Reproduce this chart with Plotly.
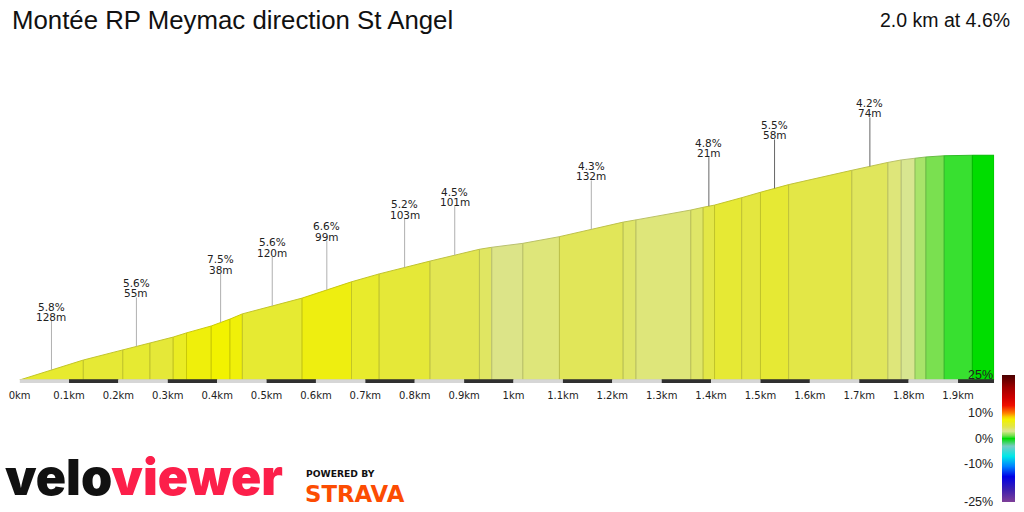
import numpy as np
import plotly.graph_objects as go

W, H = 1024, 512

# ---------------- data ----------------
title_text = "Montée RP Meymac direction St Angel"
summary_text = "2.0 km at 4.6%"

dist_km = [0, 0.129, 0.209, 0.264, 0.311, 0.338, 0.388, 0.426, 0.451, 0.572,
           0.672, 0.728, 0.831, 0.931, 0.956, 1.019, 1.093, 1.222, 1.248, 1.359,
           1.384, 1.407, 1.462, 1.500, 1.557, 1.685, 1.758, 1.785, 1.813, 1.835,
           1.872, 1.929, 1.973]
elevation_m = [700.0, 708.1, 712.2, 715.0, 717.4, 719.1, 721.9, 724.7, 726.8, 733.2,
               739.8, 743.0, 748.2, 753.0, 753.8, 755.4, 758.1, 764.0, 764.9, 768.9,
               770.0, 770.9, 773.9, 776.1, 779.2, 785.0, 788.2, 789.2, 789.9, 790.4,
               790.9, 791.1, 791.1]
segment_grade = [5.8, 5.4, 5.6, 5.2, 6.2, 6.9, 7.5, 7.0, 5.6, 6.6,
                 6.0, 5.2, 4.5, 4.1, 3.2, 3.7, 4.3, 4.0, 3.7, 4.0,
                 4.8, 5.5, 5.0, 5.5, 4.8, 4.2, 3.7, 2.8, 2.0, 1.2,
                 0.5, 0.0]

ann_segment = [0, 2, 6, 8, 9, 11, 12, 16, 20, 23, 25]
ann_grade = ["5.8%", "5.6%", "7.5%", "5.6%", "6.6%", "5.2%", "4.5%", "4.3%", "4.8%", "5.5%", "4.2%"]
ann_length = ["128m", "55m", "38m", "120m", "99m", "103m", "101m", "132m", "21m", "58m", "74m"]

tick_km = [0, 0.1, 0.2, 0.3, 0.4, 0.5, 0.6, 0.7, 0.8, 0.9, 1.0,
           1.1, 1.2, 1.3, 1.4, 1.5, 1.6, 1.7, 1.8, 1.9]
tick_text = ["0km", "0.1km", "0.2km", "0.3km", "0.4km", "0.5km", "0.6km", "0.7km", "0.8km",
             "0.9km", "1km", "1.1km", "1.2km", "1.3km", "1.4km", "1.5km", "1.6km", "1.7km",
             "1.8km", "1.9km"]

cbar_values = [25, 10, 0, -10, -25]
cbar_text = ["25%", "10%", "0%", "-10%", "-25%"]

grade_stops = [-25, -20, -15, -11, -7, -3, 0, 0.5, 1.2, 2.0, 2.8, 3.2, 3.7, 4.2, 4.5,
               5.2, 6.0, 6.6, 7.5, 8.5, 10, 13, 16, 20, 25]
grade_colors = ["#7f3f98", "#3a1fb0", "#0000e6", "#0080ff", "#00e8e8", "#78ccc4", "#00dd00",
                "#38e030", "#7ae050", "#a8e46a", "#d8e690", "#dce488", "#dee67a", "#e0e65c",
                "#e2e652", "#e5e838", "#e8eb2c", "#eeee10", "#f2f200", "#f8d000", "#ff8000",
                "#f01000", "#d00000", "#a00000", "#4a0000"]

# ---------------- helpers ----------------
def hex_rgb(h):
    h = h.lstrip("#")
    return [int(h[i:i + 2], 16) for i in (0, 2, 4)]

stop_rgb = np.array([hex_rgb(c) for c in grade_colors], dtype=float)

def grade_rgb(g):
    return [float(np.interp(g, grade_stops, stop_rgb[:, k])) for k in range(3)]

def rgb_str(c, f=1.0):
    return "rgb(%d,%d,%d)" % tuple(int(round(v * f)) for v in c)

def fx(px):
    return px / W

def fy(py):
    return 1 - py / H

X0_PX, X1_PX = 19.6, 994.1
BASE_PX, TOP_PX = 380.0, 60.0
PX_PER_M = 2.467
base_elev = elevation_m[0]
total_km = dist_km[-1]

fig = go.Figure()

# profile segments
for i, g in enumerate(segment_grade):
    d0, d1 = dist_km[i], dist_km[i + 1]
    e0, e1 = elevation_m[i], elevation_m[i + 1]
    c = grade_rgb(g)
    fig.add_trace(go.Scatter(
        x=[d0, d0, d1, d1, d0], y=[base_elev, e0, e1, base_elev, base_elev],
        mode="lines", fill="toself", fillcolor=rgb_str(c),
        line=dict(color=rgb_str(c, 0.84), width=1),
        hoverinfo="skip", showlegend=False))

# colour bar (legend of gradients)
cs = [[(s + 25) / 50.0, rgb_str(hex_rgb(c))] for s, c in zip(grade_stops, grade_colors)]
CB_TOP, CB_BOT = 375.0, 502.0
fig.add_trace(go.Scatter(
    x=[None], y=[None], mode="markers", hoverinfo="skip", showlegend=False,
    marker=dict(color=[0], cmin=-25, cmax=25, colorscale=cs, showscale=True,
                colorbar=dict(xref="container", yref="container",
                              x=fx(1002), xanchor="left", y=fy((CB_TOP + CB_BOT) / 2),
                              yanchor="middle", len=CB_BOT - CB_TOP, lenmode="pixels",
                              thickness=13, thicknessmode="pixels", outlinewidth=0,
                              xpad=0, ypad=0, showticklabels=False, ticks=""))))

shapes = []
# distance strip
for i, t in enumerate(tick_km):
    x1 = min(t + 0.1, total_km)
    shapes.append(dict(type="rect", xref="x", yref="paper", x0=t, x1=x1,
                       y0=fy(383), y1=fy(379.3), line=dict(width=0),
                       fillcolor="#d6d6d6" if i % 2 == 0 else "#303030", layer="above"))

annotations = []
for k, si in enumerate(ann_segment):
    xm = (dist_km[si] + dist_km[si + 1]) / 2
    ym = float(np.interp(xm, dist_km, elevation_m))
    lc = "#b0b0b0" if k < 8 else "#666666"
    shapes.append(dict(type="line", xref="x", yref="y", x0=xm, x1=xm,
                       ysizemode="pixel", yanchor=ym, y0=0, y1=49,
                       line=dict(color=lc, width=1)))
    annotations.append(dict(x=xm, y=ym, xref="x", yref="y", text=ann_length[k],
                            showarrow=False, yshift=53, font=dict(family="DejaVu Sans", size=10.5, color="#222")))
    annotations.append(dict(x=xm, y=ym, xref="x", yref="y", text=ann_grade[k],
                            showarrow=False, yshift=63.5, font=dict(family="DejaVu Sans", size=10.5, color="#222")))

# colour bar labels
for v, t in zip(cbar_values, cbar_text):
    yp = CB_TOP + (25 - v) / 50.0 * (CB_BOT - CB_TOP)
    annotations.append(dict(x=fx(995), y=fy(yp), xref="paper", yref="paper", xanchor="right",
                            yanchor="middle", text=t, showarrow=False,
                            font=dict(family="Liberation Sans", size=12.5, color="#222")))

# titles
annotations.append(dict(x=fx(10), y=fy(20), xref="paper", yref="paper", xanchor="left",
                        yanchor="middle", text=title_text, showarrow=False,
                        font=dict(family="Liberation Sans", size=25.8, color="#111")))
annotations.append(dict(x=fx(1012), y=fy(20), xref="paper", yref="paper", xanchor="right",
                        yanchor="middle", text=summary_text, showarrow=False,
                        font=dict(family="Liberation Sans", size=19.5, color="#111")))

# logos
annotations.append(dict(x=fx(3), y=fy(477), xref="paper", yref="paper", xanchor="left",
                        yanchor="middle", showarrow=False,
                        text='<span style="color:#111111">velo</span><span style="color:#fc1f4a">viewer</span>',
                        font=dict(family="Inter", size=50, weight=900)))
annotations.append(dict(x=fx(304), y=fy(473), xref="paper", yref="paper", xanchor="left",
                        yanchor="middle", showarrow=False, text="POWERED BY",
                        font=dict(family="DejaVu Sans", size=9.2, weight=700, color="#111")))
annotations.append(dict(x=fx(303), y=fy(494), xref="paper", yref="paper", xanchor="left",
                        yanchor="middle", showarrow=False, text="STRAVA",
                        font=dict(family="DejaVu Sans", size=22.8, weight=700, color="#fc4c02")))

fig.update_layout(
    width=W, height=H, margin=dict(l=0, r=0, t=0, b=0, autoexpand=False),
    paper_bgcolor="white", plot_bgcolor="white", showlegend=False,
    shapes=shapes, annotations=annotations,
    xaxis=dict(range=[0, total_km], domain=[fx(X0_PX), fx(X1_PX)], tickvals=tick_km,
               ticktext=tick_text, showgrid=False, zeroline=False, showline=False,
               ticks="outside", ticklen=6, tickcolor="rgba(0,0,0,0)", automargin=False,
               tickfont=dict(family="DejaVu Sans", size=10, color="#222"), fixedrange=True),
    yaxis=dict(range=[base_elev, base_elev + (BASE_PX - TOP_PX) / PX_PER_M],
               domain=[fy(BASE_PX), fy(TOP_PX)], visible=False, fixedrange=True),
)

fig.write_html("out.html")
